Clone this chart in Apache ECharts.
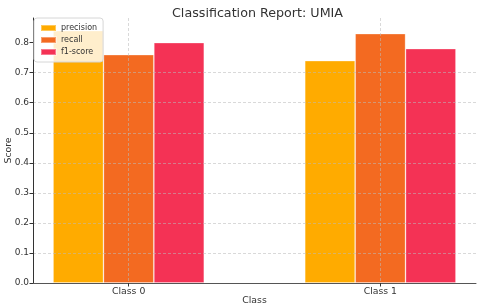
<!DOCTYPE html>
<html>
<head>
<meta charset="utf-8">
<script src="https://cdn.jsdelivr.net/npm/echarts@6/dist/echarts.min.js"></script>
<style>html,body{margin:0;padding:0;background:#fff}#c{width:480px;height:308px}</style>
</head>
<body>
<div id="c"></div>
<script>
var categories = ['Class 0', 'Class 1'];
var seriesNames = ['precision', 'recall', 'f1-score'];
var precision = [0.84, 0.74];
var recall = [0.76, 0.83];
var f1score = [0.80, 0.78];
var yTicks = [0, 0.1, 0.2, 0.3, 0.4, 0.5, 0.6, 0.7, 0.8];
var colors = ['#FFAB00', '#F36A21', '#F43255'];

var values = [precision, recall, f1score];
var font = 'DejaVu Sans';
var chart = echarts.init(document.getElementById('c'), null, {renderer: 'canvas'});
var grid = 'rgba(185,185,185,0.55)';
chart.setOption({
  animation: false,
  textStyle: {fontFamily: font},
  title: {
    text: 'Classification Report: UMIA', left: 167, top: 2,
    textStyle: {fontFamily: font, fontSize: 12.7, fontWeight: 'normal', color: '#333'}
  },
  color: colors,
  legend: {
    orient: 'vertical', left: 34, top: 18,
    data: seriesNames,
    itemWidth: 15, itemHeight: 6, itemGap: 2,
    icon: 'rect',
    padding: [5, 6, 5, 6],
    backgroundColor: 'rgba(255,255,255,0.8)',
    borderColor: '#d6d6d6', borderWidth: 1, borderRadius: 3,
    textStyle: {fontFamily: font, fontSize: 8, color: '#333', lineHeight: 10}
  },
  grid: {left: 33, right: 4, top: 18, bottom: 25, containLabel: false, outerBoundsMode: 'none'},
  xAxis: {
    type: 'value', min: -0.38, max: 1.38, z: 3,
    name: 'Class', nameLocation: 'middle', nameGap: 13, nameMoveOverlap: false,
    nameTextStyle: {fontFamily: font, fontSize: 9.3, color: '#333'},
    axisLine: {show: true, onZero: false, lineStyle: {color: '#555', width: 1}},
    axisTick: {show: true, length: 3.5, lineStyle: {color: '#333'}, customValues: [0, 1]},
    axisLabel: {customValues: [0, 1], fontFamily: font, fontSize: 9.3, color: '#333', margin: 4,
      formatter: function (v) { return categories[Math.round(v)]; }},
    splitLine: {show: true, lineStyle: {color: grid, type: [3, 2], width: 1}}
  },
  yAxis: {
    type: 'value', min: 0, max: 0.882, interval: 0.1, z: 3,
    name: 'Score', nameLocation: 'middle', nameGap: 20, nameMoveOverlap: false,
    nameTextStyle: {fontFamily: font, fontSize: 9.3, color: '#333'},
    axisLine: {show: true, onZero: false, lineStyle: {color: '#333', width: 1}},
    axisTick: {show: true, length: 3.5, lineStyle: {color: '#333'}, customValues: yTicks},
    axisLabel: {customValues: yTicks, fontFamily: font, fontSize: 9, color: '#333', margin: 4,
      formatter: function (v) { return v.toFixed(1); }},
    splitLine: {show: true, showMinLine: false, showMaxLine: false, lineStyle: {color: grid, type: [3, 2], width: 1}}
  },
  series: seriesNames.map(function (n, i) {
    return {
      name: n, type: 'bar', barWidth: 50.4, barGap: '0%',
      itemStyle: {color: colors[i], borderColor: 'rgba(255,255,255,0.35)', borderWidth: 0.8},
      data: values[i].map(function (v, j) { return [j, v]; })
    };
  })
});
</script>
</body>
</html>
